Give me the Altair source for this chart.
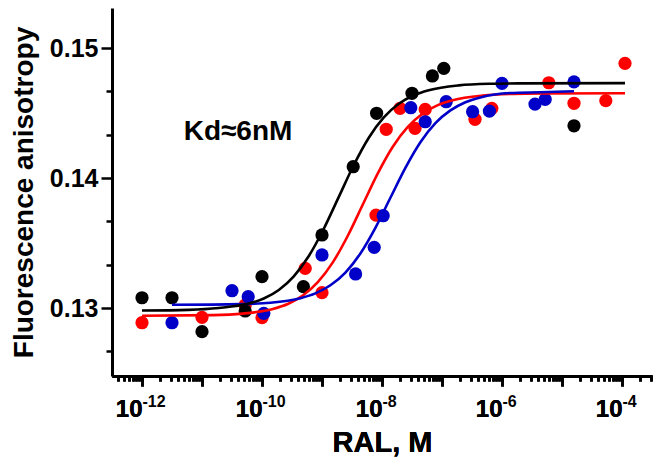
import altair as alt
import pandas as pd

# ---- measured data (x as log10 of molar concentration) ----
black_x = [-12, -11.5, -11, -10.28, -10.0, -9.31, -9.0, -8.48, -8.09, -7.5, -7.16, -6.97, -4.8]
black_y = [0.13079, 0.13079, 0.12818, 0.12977, 0.13241, 0.13164, 0.13562, 0.14087, 0.14498, 0.14652, 0.14785, 0.14844, 0.14402]

red_x = [-12, -11, -10.28, -10.0, -9.28, -9.0, -8.1, -7.93, -7.7, -7.45, -7.28, -6.45, -6.17, -5.22, -4.8, -4.27, -3.95]
red_y = [0.12887, 0.12928, 0.13023, 0.12926, 0.13305, 0.13118, 0.13715, 0.14375, 0.14536, 0.14382, 0.14528, 0.14452, 0.14536, 0.14733, 0.14575, 0.14595, 0.14882]

blue_x = [-11.5, -10.5, -10.23, -9.97, -9.0, -8.44, -8.13, -7.98, -7.52, -7.28, -6.93, -6.49, -6.21, -6.0, -5.45, -5.28, -4.8]
blue_y = [0.12887, 0.13133, 0.13087, 0.12959, 0.13408, 0.13262, 0.13467, 0.1371, 0.14541, 0.14433, 0.14587, 0.1451, 0.14515, 0.14728, 0.14569, 0.14605, 0.1474]

# ---- fitted curves ----
black_fit_x = [-12, -11.22, -10.72, -10.22, -9.97, -9.72, -9.47, -9.22, -8.97, -8.72, -8.47, -8.22, -7.97, -7.72, -7.47, -7.22, -6.72, -6.22, -5.72, -3.95]
black_fit_y = [0.12981, 0.12986, 0.13, 0.13034, 0.13073, 0.13139, 0.13244, 0.1340, 0.1361, 0.13855, 0.1410, 0.1431, 0.14466, 0.14571, 0.14637, 0.14676, 0.14713, 0.14725, 0.14728, 0.1473]

red_fit_x = [-12, -10.82, -10.32, -9.82, -9.57, -9.32, -9.07, -8.82, -8.57, -8.32, -8.07, -7.82, -7.57, -7.32, -7.07, -6.82, -6.32, -5.82, -5.32, -3.95]
red_fit_y = [0.12940, 0.12945, 0.12957, 0.12993, 0.13031, 0.13096, 0.13199, 0.13351, 0.13556, 0.13796, 0.14036, 0.14241, 0.14393, 0.14496, 0.14561, 0.14599, 0.14635, 0.14647, 0.1465, 0.14652]

blue_fit_x = [-11.5, -10.36, -9.86, -9.36, -9.11, -8.86, -8.61, -8.36, -8.11, -7.86, -7.61, -7.36, -7.11, -6.86, -6.61, -6.36, -5.86, -5.36, -4.8]
blue_fit_y = [0.13025, 0.1303, 0.13041, 0.13076, 0.13113, 0.13175, 0.13273, 0.13420, 0.13617, 0.13848, 0.14078, 0.14275, 0.14422, 0.1452, 0.14583, 0.1462, 0.14654, 0.1466, 0.14668]

note_x = [-10.4]
note_y = [0.14354]
note_text = ["Kd\u22486nM"]

series_names = ["red", "black", "blue"]
series_colors = ["#ff0000", "#000000", "#0000c8"]

FONT = "Liberation Sans"


def frame(xs, ys, name):
    return pd.DataFrame({"conc": [10.0 ** v for v in xs], "val": ys, "series": name,
                         "idx": list(range(len(xs)))})


pts = pd.concat([frame(red_x, red_y, "red"), frame(black_x, black_y, "black"),
                 frame(blue_x, blue_y, "blue")], ignore_index=True)
fits = pd.concat([frame(red_fit_x, red_fit_y, "red"), frame(blue_fit_x, blue_fit_y, "blue"),
                  frame(black_fit_x, black_fit_y, "black")], ignore_index=True)
notes = pd.DataFrame({"conc": [10.0 ** v for v in note_x], "val": note_y, "text": note_text})

xmin, xmax = 10 ** -12.5, 10 ** -3.5
x_ticks = [k * 10.0 ** d for d in range(-13, -3) for k in range(1, 10)
           if xmin <= k * 10.0 ** d <= xmax]
x_label_ticks = [10.0 ** d for d in (-12, -10, -8, -6, -4)]
y_ticks = [0.12667, 0.13, 0.13333, 0.13667, 0.14, 0.14333, 0.14667, 0.15]

is_decade = "abs(log(datum.value)/LN10 - round(log(datum.value)/LN10)) < 0.001"
e = "round(log(datum.value)/LN10)"
y_major = "abs(datum.value*100 - round(datum.value*100)) < 0.001"

xscale = alt.Scale(type="log", domain=[xmin, xmax], nice=False)
yscale = alt.Scale(domain=[0.12477, 0.15308], nice=False, zero=False)
cscale = alt.Scale(domain=series_names, range=series_colors)

# main x axis: line, ticks, the "10" part of each label and the title
x_axis = alt.Axis(values=x_ticks, orient="bottom",
                  labelExpr=f"({is_decade} && {e} % 2 == 0) ? '10' : ''",
                  title="RAL, M",
                  tickSize={"condition": {"test": is_decade, "value": 10}, "value": 5},
                  labelOverlap=False, labelFlush=False, labelFontSize=24, labelFont=FONT,
                  labelFontWeight="bold", labelColor="black", labelPadding=11,
                  labelAlign="right",
                  titleFontSize=29, titleFont=FONT, titleFontWeight="bold", titleColor="black",
                  titlePadding=7, domainWidth=3, domainColor="black", tickWidth=2.5,
                  tickColor="black", grid=False)
# second x axis on the same scale: the raised exponents
x_axis_exp = alt.Axis(values=x_label_ticks, orient="bottom",
                      labelExpr=f"toString({e})", title=None, domain=False,
                      ticks=True, tickSize=10, tickOpacity=0,
                      labelOverlap=False, labelFlush=False, labelFontSize=16, labelFont=FONT,
                      labelFontWeight="bold", labelColor="black", labelPadding=7,
                      labelAlign="left", grid=False)
y_axis = alt.Axis(values=y_ticks, labelExpr=f"({y_major}) ? format(datum.value, '.2f') : ''",
                  title="Fluorescence anisotropy",
                  tickSize={"condition": {"test": y_major, "value": 11}, "value": 6},
                  labelOverlap=False, labelFontSize=25, labelFont=FONT, labelFontWeight="bold",
                  labelColor="black", labelPadding=3, titleFontSize=28, titleFont=FONT,
                  titleFontWeight="bold", titleColor="black", titlePadding=11, domainWidth=3,
                  domainColor="black", tickWidth=2.5, tickColor="black", grid=False)

X = alt.X("conc:Q", scale=xscale, axis=x_axis)
X2 = alt.X("conc:Q", scale=xscale, axis=x_axis_exp)
Y = alt.Y("val:Q", scale=yscale, axis=y_axis)
C = alt.Color("series:N", scale=cscale, legend=None)

points = alt.Chart(pts).mark_circle(size=175, opacity=1).encode(x=X, y=Y, color=C)
lines = alt.Chart(fits).mark_line(interpolate="monotone", strokeWidth=2.6).encode(
    x=X, y=Y, color=C, detail="series:N", order="idx:Q")
label = alt.Chart(notes).mark_text(fontSize=28, font=FONT, fontWeight="bold", color="black",
                                   align="center", baseline="middle").encode(
    x=X, y=Y, text="text:N")
exp_layer = alt.Chart(notes).mark_text(opacity=0).encode(x=X2, y=Y, text="text:N")

chart = alt.layer(points, lines, label, exp_layer).resolve_axis(x="independent").properties(
    width=540, height=368,
    autosize=alt.AutoSizeParams(type="none"),
    padding={"left": 104, "top": 0, "right": 4, "bottom": 84},
).configure_view(stroke=None)

chart.save("out.html", embed_options={"renderer": "svg", "actions": False})
